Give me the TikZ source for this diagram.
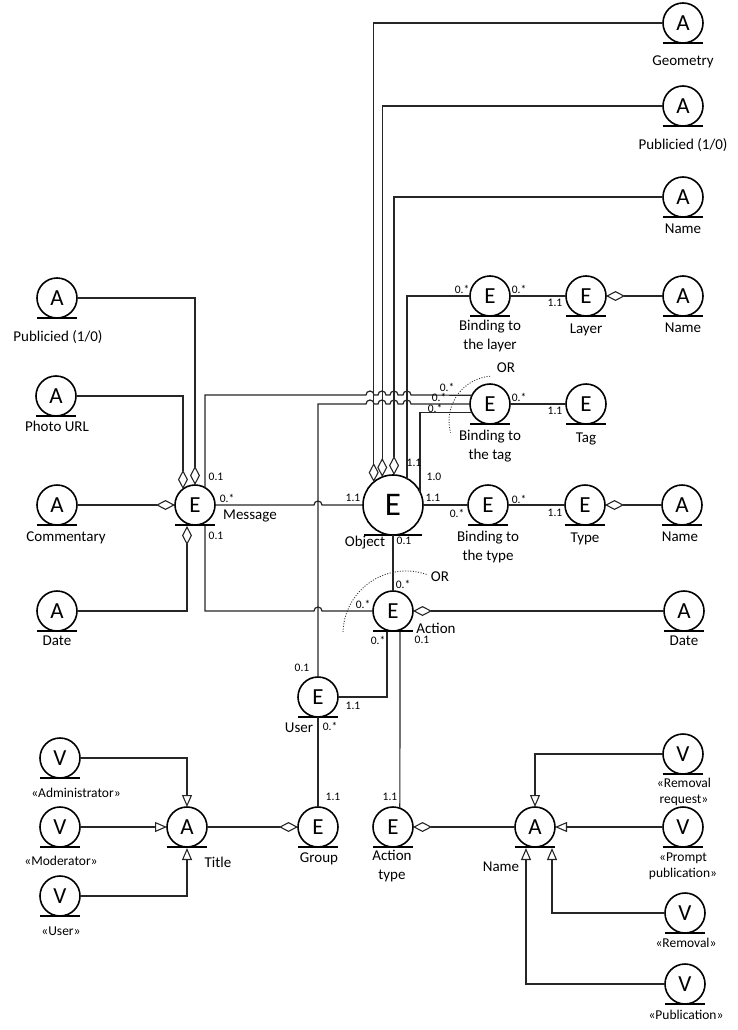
\documentclass[tikz,border=0pt]{standalone}
\usepackage{fontspec}
\setmainfont{Carlito}
\usetikzlibrary{arrows.meta,calc}
\def\hopR#1#2{-- ({#1-4},#2) arc[start angle=180,end angle=360,radius=4]}
\begin{document}
\begin{tikzpicture}[x=1pt,y=-1pt,
 ent/.style={circle,draw=black,line width=1.6pt,minimum size=40pt,inner sep=0pt,outer sep=0pt,fill=white,font=\fontsize{23}{23}\selectfont},
 bigent/.style={ent,minimum size=60pt,font=\fontsize{33}{33}\selectfont},
 lbl/.style={font=\fontsize{15}{19.5}\selectfont,align=center,inner sep=0pt},
 vlbl/.style={font=\fontsize{13.5}{16}\selectfont,align=center,inner sep=0pt},
 mult/.style={font=\fontsize{11.5}{11.5}\selectfont,inner sep=0pt},
 conn/.style={draw=black!85,line width=1.2pt},
 aggto/.style={conn,-{Diamond[open,length=19pt,width=10pt,line width=1.1pt]}},
 gento/.style={conn,-{Triangle[open,length=12pt,width=10pt,line width=1.1pt]}},
 orarc/.style={draw=black!80,line width=0.9pt,dash pattern=on 1pt off 1.6pt},
 uline/.style={draw=black,line width=2.4pt},
]
\useasboundingbox (0,0) rectangle (738,1030);

% ---------- nodes ----------
\node[ent] (geo) at (683,23) {A};   \node[lbl] (geoL) at (683,62) {Geometry};
\node[ent] (pub2) at (683,106) {A}; \node[lbl] (pub2L) at (683,145) {Publicied (1/0)};
\node[ent] (nm1) at (683,197) {A};  \node[lbl] (nm1L) at (683,229) {Name};
\node[ent] (bl) at (490,296) {E};   \node[lbl] (blL) at (490,336) {Binding to\\the layer};
\node[ent] (lay) at (586,296) {E};  \node[lbl] (layL) at (586,330) {Layer};
\node[ent] (nm2) at (683,296) {A};  \node[lbl] (nm2L) at (683,328) {Name};
\node[ent] (bt) at (490,404) {E};   \node[lbl] (btL) at (490,446) {Binding to\\the tag};
\node[ent] (tag) at (586,404) {E};  \node[lbl] (tagL) at (586,439) {Tag};
\node[bigent] (obj) at (393,505) {E}; \node[lbl] (objL) at (365,543) {Object};
\node[ent] (bty) at (488,505) {E};  \node[lbl] (btyL) at (488,547) {Binding to\\the type};
\node[ent] (typ) at (585,505) {E};  \node[lbl] (typL) at (585,539) {Type};
\node[ent] (nm3) at (682,505) {A};  \node[lbl] (nm3L) at (680,537) {Name};
\node[ent] (act) at (393,611) {E};  \node[lbl] (actL) at (436,628) {Action};
\node[ent] (dt2) at (684,611) {A};  \node[lbl] (dt2L) at (684,641) {Date};
\node[ent] (pub1) at (57,298) {A};  \node[lbl] (pub1L) at (58,337) {Publicied (1/0)};
\node[ent] (url) at (56,396) {A};   \node[lbl] (urlL) at (57,426) {Photo URL};
\node[ent] (com) at (57,505) {A};   \node[lbl] (comL) at (66,538) {Commentary};
\node[ent] (dt1) at (57,611) {A};   \node[lbl] (dt1L) at (57,641) {Date};
\node[ent] (msg) at (195,505) {E};  \node[lbl] (msgL) at (250,516) {Message};
\node[ent] (usr) at (318,697) {E};  \node[lbl] (usrL) at (299,728) {User};
\node[ent] (grp) at (318,827) {E};  \node[lbl] (grpL) at (319,859) {Group};
\node[ent] (ttl) at (187,827) {A};  \node[lbl] (ttlL) at (218,862) {Title};
\node[ent] (aty) at (393,827) {E};  \node[lbl] (atyL) at (392,866) {Action\\type};
\node[ent] (nm4) at (535,827) {A};  \node[lbl] (nm4L) at (501,867) {Name};
\node[ent] (adm) at (60,758) {V};   \node[vlbl] (admL) at (76,793) {«Administrator»};
\node[ent] (mod) at (60,827) {V};   \node[vlbl] (modL) at (61,861) {«Moderator»};
\node[ent] (vus) at (60,896) {V};   \node[vlbl] (vusL) at (61,931) {«User»};
\node[ent] (rrq) at (683,754) {V};  \node[vlbl] (rrqL) at (684,792) {«Removal\\request»};
\node[ent] (prp) at (683,827) {V};  \node[vlbl] (prpL) at (683,866) {«Prompt\\publication»};
\node[ent] (rem) at (685,913) {V};  \node[vlbl] (remL) at (686,943) {«Removal»};
\node[ent] (pbl) at (685,984) {V};  \node[vlbl] (pblL) at (686,1015) {«Publication»};

% underlines
\foreach \n in {geo,pub2,nm1,bl,lay,nm2,bt,tag,bty,typ,nm3,act,dt2,pub1,url,com,dt1,msg,usr,grp,ttl,aty,nm4,adm,mod,vus,rrq,prp,rem,pbl}
  \draw[uline] ($(\n.south)+(-20,0)$) -- ($(\n.south)+(20,0)$);
\draw[uline] ($(obj.south)+(-29,0)$) -- ($(obj.south)+(29,0)$);

% ---------- connectors ----------
% attributes of Message
\draw[aggto] (pub1.east) -| (msg.north);
\draw[aggto] (url.east) -| (msg.127);
\draw[aggto] (com.east) -- (msg.west);
\draw[aggto] (dt1.east) -| ($(msg.south)+(-8,1)$);
% Message - Object
\draw[conn] (msg.east) \hopR{318}{505} -- (obj.west);
% Message - Binding to the tag
\draw[conn] (msg.60) -- (205,395) \hopR{370}{395} \hopR{382}{395} \hopR{394}{395} \hopR{407}{395} -- (bt.154);
% User - Binding to the tag
\draw[conn] (usr.north) -- (318,404) \hopR{370}{404} \hopR{382}{404} \hopR{394}{404} \hopR{407}{404} -- (bt.west);
% Object - Binding to the tag
\draw[conn] (obj.26) |- (bt.206);
% Object - Binding to the layer
\draw[conn] (obj.62) |- (bl.west);
% attributes of Object
\draw[aggto] (geo.west) -| (obj.130);
\draw[aggto] (pub2.west) -| (obj.111.5);
\draw[aggto] (nm1.west) -| (obj.88);
% layer / tag / type chains
\draw[conn] (bl.east) -- (lay.west);
\draw[aggto] (nm2.west) -- (lay.east);
\draw[conn] (bt.east) -- (tag.west);
\draw[conn] (obj.east) -- (bty.west);
\draw[conn] (bty.east) -- (typ.west);
\draw[aggto] (nm3.west) -- (typ.east);
% Action
\draw[conn] (obj.south) -- (act.north);
\draw[conn] ($(msg.south)+(10,1)$) -- (205,611) \hopR{318}{611} -- (act.west);
\draw[aggto] (dt2.west) -- (act.east);
\draw[conn] ($(act.south)+(-6,1)$) |- (usr.east);
\draw[conn] ($(act.south)+(7,1)$) -- (aty.70);
\draw[conn] (usr.south) -- (grp.north);
% Title
\draw[aggto] (ttl.east) -- (grp.west);
\draw[gento] (adm.east) -| (ttl.north);
\draw[gento] (mod.east) -- (ttl.west);
\draw[gento] (vus.east) -| ($(ttl.south)+(0,1)$);
% Action type name
\draw[aggto] (nm4.west) -- (aty.east);
\draw[gento] (rrq.west) -| (nm4.north);
\draw[gento] (prp.west) -- (nm4.east);
\draw[gento] (rem.west) -| ($(nm4.south)+(17,1)$);
\draw[gento] (pbl.west) -| ($(nm4.south)+(-9,1)$);

% OR arcs
\draw[orarc] (426.5,574.4) arc[start angle=-71,end angle=-178,radius=63];
\node[lbl] (or1) at (440,577) {OR};
\draw[orarc] (490.1,376.2) arc[start angle=-95,end angle=-195,radius=45];
\node[lbl] (or2) at (506,368) {OR};

% multiplicities
\node[mult] (m1) at (216,477) {0.1};
\node[mult] (m2) at (227,498) {0.*};
\node[mult] (m3) at (216,536) {0.1};
\node[mult] (m4) at (353,498) {1.1};
\node[mult] (m5) at (414,463) {1.1};
\node[mult] (m6) at (434,477) {1.0};
\node[mult] (m7) at (433,498) {1.1};
\node[mult] (m8) at (457,513) {0.*};
\node[mult] (m9) at (404,541) {0.1};
\node[mult] (m10) at (462,289) {0.*};
\node[mult] (m11) at (519,289) {0.*};
\node[mult] (m12) at (555,303) {1.1};
\node[mult] (m13) at (447,387) {0.*};
\node[mult] (m14) at (439,397) {0.*};
\node[mult] (m15) at (435,408) {0.*};
\node[mult] (m16) at (519,397) {0.*};
\node[mult] (m17) at (555,411) {1.1};
\node[mult] (m18) at (519,499) {0.*};
\node[mult] (m19) at (555,513) {1.1};
\node[mult] (m20) at (403,584) {0.*};
\node[mult] (m21) at (363,604) {0.*};
\node[mult] (m22) at (378,640) {0.*};
\node[mult] (m23) at (422,640) {0.1};
\node[mult] (m24) at (302,668) {0.1};
\node[mult] (m25) at (353,706) {1.1};
\node[mult] (m26) at (330,726) {0.*};
\node[mult] (m27) at (333,797) {1.1};
\node[mult] (m28) at (390,797) {1.1};
\end{tikzpicture}
\end{document}
